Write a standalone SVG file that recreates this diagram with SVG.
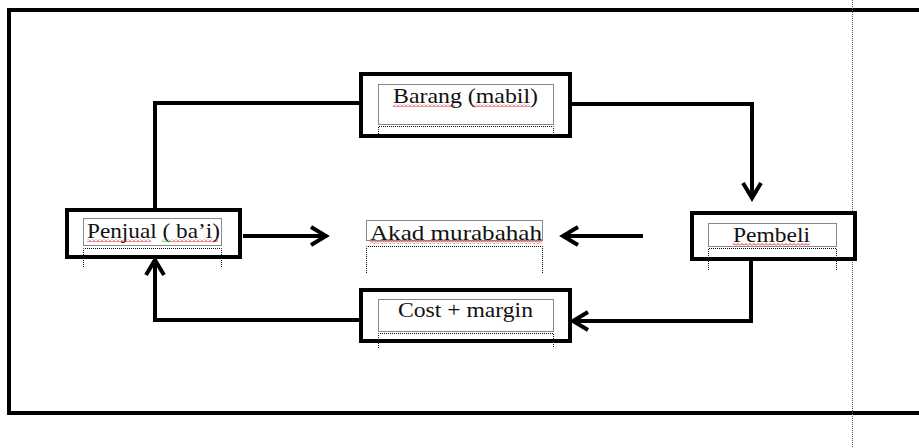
<svg xmlns="http://www.w3.org/2000/svg" width="919" height="448" viewBox="0 0 919 448">
  <style>
    .frame { fill: none; stroke: #000; stroke-width: 4; }
    .box { fill: #fff; stroke: #000; stroke-width: 4; }
    .dots { fill: none; stroke: #111; stroke-width: 1; stroke-dasharray: 1 1; }
    .link { fill: none; stroke: #000; stroke-width: 4; stroke-linejoin: miter; }
    .label { font-family: "Liberation Serif", "Times New Roman", serif; font-size: 22px; fill: #111; }
    .squig { fill: none; stroke: #e02020; stroke-width: 1.2; }
    .squig-g { fill: none; stroke: #2a9a2a; stroke-width: 1.2; }
    .page { stroke: #555; stroke-width: 1; stroke-dasharray: 1 1; }
  </style>
  <defs>
    <marker id="head" markerUnits="userSpaceOnUse" orient="auto" refX="0" refY="0" markerWidth="30" markerHeight="30" viewBox="-20 -15 30 30" overflow="visible">
      <path d="M-15 -9 L0 0 L-15 9" fill="none" stroke="#000" stroke-width="4" stroke-linejoin="miter"/>
    </marker>
    <!-- spelling squiggle tile -->
    <pattern id="wave" patternUnits="userSpaceOnUse" width="4" height="3">
      <path d="M0 2.5 L2 0.5 L4 2.5" fill="none" stroke="#e02020" stroke-width="1"/>
    </pattern>
    <pattern id="wave-g" patternUnits="userSpaceOnUse" width="4" height="3">
      <path d="M0 2.5 L2 0.5 L4 2.5" fill="none" stroke="#2a9a2a" stroke-width="1"/>
    </pattern>
  </defs>

  <rect width="919" height="448" fill="#fff"/>

  <!-- outer frame -->
  <path class="frame" d="M925 10 H9 V413 H925"/>
  <!-- page margin guide -->
  <line class="page" x1="852.5" y1="0" x2="852.5" y2="448"/>

  <!-- connectors -->
  <g id="connectors">
    <path class="link" d="M155 210 V103 H361"/>
    <path class="link" d="M570 104 H752 V198" marker-end="url(#head)"/>
    <path class="link" d="M751 259 V321 H573" marker-end="url(#head)"/>
    <path class="link" d="M361 320 H155 V260" marker-end="url(#head)"/>
    <path class="link" d="M243 236 H326" marker-end="url(#head)"/>
    <path class="link" d="M643 236 H563" marker-end="url(#head)"/>
  </g>

  <g id="barang">
    <rect class="box" x="361" y="74" width="209" height="62"/>
    <rect class="dots" x="378.5" y="84.5" width="175" height="40"/>
    <path class="dots" d="M378.5 136 V126.5 H553.5 V136"/>
    <text class="label" x="393" y="103" textLength="145" lengthAdjust="spacingAndGlyphs">Barang (mabil)</text>
    <rect x="393" y="104" width="62" height="3" fill="url(#wave)"/>
    <rect x="472" y="104" width="58" height="3" fill="url(#wave)"/>
  </g>

  <g id="penjual">
    <rect class="box" x="67" y="210" width="173" height="47"/>
    <rect class="dots" x="83.5" y="218.5" width="138" height="27"/>
    <path class="dots" d="M83.5 267 V248.5 H221.5 V267"/>
    <text class="label" x="87" y="238" textLength="133" lengthAdjust="spacingAndGlyphs">Penjual ( ba’i)</text>
    <rect x="87" y="239" width="64" height="3" fill="url(#wave)"/>
    <rect x="162" y="239" width="10" height="3" fill="url(#wave-g)"/>
    <rect x="172" y="239" width="46" height="3" fill="url(#wave)"/>
  </g>

  <g id="akad">
    <rect class="dots" x="366.5" y="220.5" width="176" height="20"/>
    <path class="dots" d="M366.5 273 V246.5 H542.5 V273"/>
    <text class="label" x="370" y="240" textLength="172" lengthAdjust="spacingAndGlyphs">Akad murabahah</text>
    <rect x="370" y="241" width="172" height="3" fill="url(#wave)"/>
  </g>

  <g id="pembeli">
    <rect class="box" x="692" y="213" width="163" height="46"/>
    <rect class="dots" x="708.5" y="223.5" width="128" height="23"/>
    <path class="dots" d="M708.5 270 V248.5 H836.5 V270"/>
    <text class="label" x="733" y="242" textLength="77" lengthAdjust="spacingAndGlyphs">Pembeli</text>
    <rect x="733" y="243" width="77" height="3" fill="url(#wave)"/>
  </g>

  <g id="cost">
    <rect class="box" x="361" y="290" width="209" height="51"/>
    <rect class="dots" x="378.5" y="299.5" width="175" height="32"/>
    <path class="dots" d="M378.5 348 V333.5 H553.5 V348"/>
    <text class="label" x="398" y="317" textLength="135" lengthAdjust="spacingAndGlyphs">Cost + margin</text>
  </g>
</svg>
